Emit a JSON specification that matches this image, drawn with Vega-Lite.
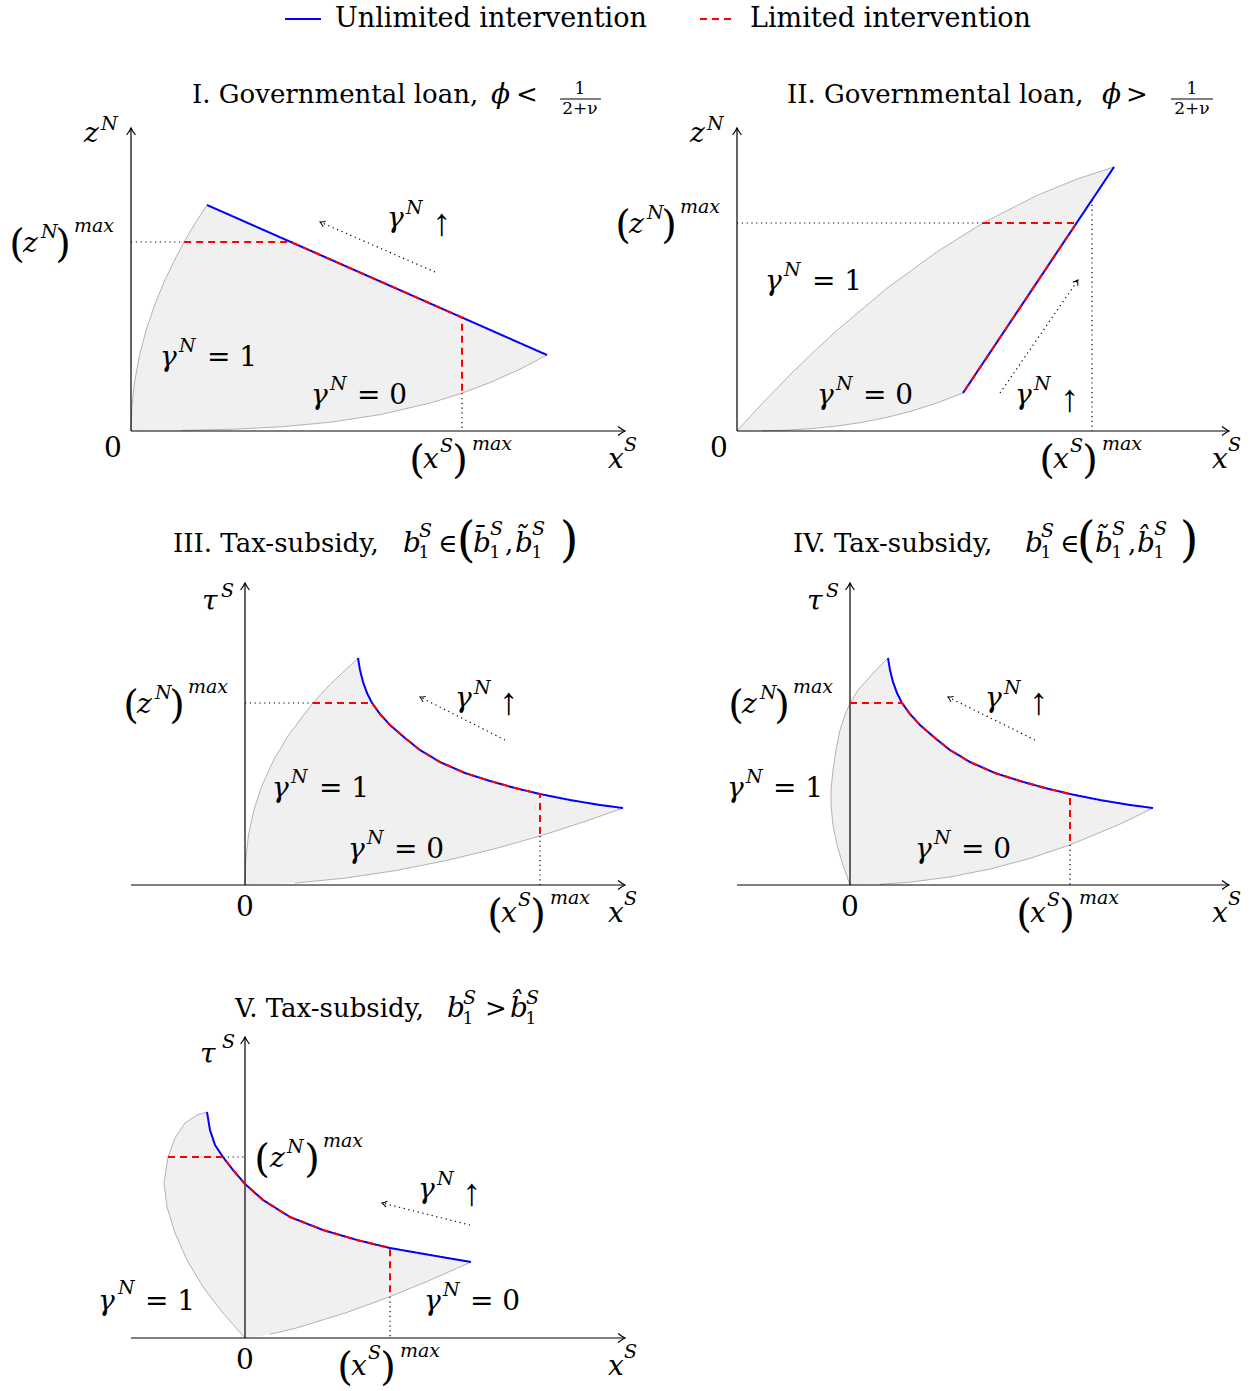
{
  "$schema": "https://vega.github.io/schema/vega-lite/v6.json",
  "padding": 0,
  "background": "white",
  "config": {
    "view": {"stroke": null},
    "text": {"font": "DejaVu Serif", "color": "#000"},
    "legend": {"symbolType": "stroke", "symbolSize": 1296, "symbolStrokeWidth": 2, "labelFont": "DejaVu Serif", "labelFontSize": 27, "labelColor": "#000", "labelOffset": 13, "columnPadding": 49, "padding": 0, "labelLimit": 0}
  },
  "datasets": {
    "region": [
      {"p":"I","i":0,"x":0,"y":0},{"p":"I","i":1,"x":0.0093,"y":0.25},{"p":"I","i":2,"x":0.0372,"y":0.5},{"p":"I","i":3,"x":0.0837,"y":0.75},{"p":"I","i":4,"x":0.1488,"y":1.0},{"p":"I","i":5,"x":0.2325,"y":1.25},{"p":"I","i":6,"x":0.3348,"y":1.5},{"p":"I","i":7,"x":0.4557,"y":1.75},{"p":"I","i":8,"x":0.5315,"y":1.89},{"p":"I","i":9,"x":0.5952,"y":2.0},{"p":"I","i":10,"x":0.6752,"y":2.13},{"p":"I","i":11,"x":0.76,"y":2.26},{"p":"I","i":12,"x":4.16,"y":0.76},{"p":"I","i":13,"x":3.9,"y":0.6231},{"p":"I","i":14,"x":3.6,"y":0.4879},{"p":"I","i":15,"x":3.31,"y":0.3783},{"p":"I","i":16,"x":3.0,"y":0.2818},{"p":"I","i":17,"x":2.5,"y":0.1652},{"p":"I","i":18,"x":2.0,"y":0.0883},{"p":"I","i":19,"x":1.5,"y":0.0419},{"p":"I","i":20,"x":1.0,"y":0.0171},{"p":"I","i":21,"x":0.5,"y":0.0056},
      {"p":"II","i":0,"x":0,"y":0},{"p":"II","i":1,"x":0.25,"y":0.2726},{"p":"II","i":2,"x":0.5,"y":0.5313},{"p":"II","i":3,"x":0.75,"y":0.776},{"p":"II","i":4,"x":1.0,"y":1.0071},{"p":"II","i":5,"x":1.5,"y":1.4275},{"p":"II","i":6,"x":2.0,"y":1.7924},{"p":"II","i":7,"x":2.46,"y":2.08},{"p":"II","i":8,"x":3.0,"y":2.3559},{"p":"II","i":9,"x":3.4,"y":2.5192},{"p":"II","i":10,"x":3.77,"y":2.64},{"p":"II","i":11,"x":2.26,"y":0.38},{"p":"II","i":12,"x":2.0,"y":0.28},{"p":"II","i":13,"x":1.75,"y":0.2005},{"p":"II","i":14,"x":1.5,"y":0.1364},{"p":"II","i":15,"x":1.25,"y":0.0865},{"p":"II","i":16,"x":1.0,"y":0.0495},{"p":"II","i":17,"x":0.75,"y":0.0241},{"p":"II","i":18,"x":0.5,"y":0.0087},{"p":"II","i":19,"x":0.25,"y":0.0015},
      {"p":"III","i":0,"x":0,"y":0},{"p":"III","i":1,"x":0.0071,"y":0.25},{"p":"III","i":2,"x":0.0348,"y":0.5},{"p":"III","i":3,"x":0.0885,"y":0.75},{"p":"III","i":4,"x":0.1715,"y":1.0},{"p":"III","i":5,"x":0.2865,"y":1.25},{"p":"III","i":6,"x":0.4358,"y":1.5},{"p":"III","i":7,"x":0.68,"y":1.82},{"p":"III","i":8,"x":0.8447,"y":2.0},{"p":"III","i":9,"x":1.13,"y":2.27},{"p":"III","i":10,"x":1.15,"y":2.15},{"p":"III","i":11,"x":1.18,"y":2.03},{"p":"III","i":12,"x":1.22,"y":1.92},{"p":"III","i":13,"x":1.27,"y":1.82},{"p":"III","i":14,"x":1.35,"y":1.71},{"p":"III","i":15,"x":1.45,"y":1.6},{"p":"III","i":16,"x":1.6,"y":1.47},{"p":"III","i":17,"x":1.75,"y":1.35},{"p":"III","i":18,"x":1.95,"y":1.23},{"p":"III","i":19,"x":2.2,"y":1.12},{"p":"III","i":20,"x":2.45,"y":1.04},{"p":"III","i":21,"x":2.7,"y":0.97},{"p":"III","i":22,"x":2.95,"y":0.91},{"p":"III","i":23,"x":3.25,"y":0.85},{"p":"III","i":24,"x":3.55,"y":0.8},{"p":"III","i":25,"x":3.78,"y":0.77},{"p":"III","i":26,"x":3.4,"y":0.635},{"p":"III","i":27,"x":2.95,"y":0.49},{"p":"III","i":28,"x":2.5,"y":0.3628},{"p":"III","i":29,"x":2.0,"y":0.2417},{"p":"III","i":30,"x":1.5,"y":0.1432},{"p":"III","i":31,"x":1.0,"y":0.0685},{"p":"III","i":32,"x":0.5,"y":0.0194},
      {"p":"IV","i":0,"x":0,"y":0},{"p":"IV","i":1,"x":-0.07,"y":0.2},{"p":"IV","i":2,"x":-0.13,"y":0.4},{"p":"IV","i":3,"x":-0.17,"y":0.6},{"p":"IV","i":4,"x":-0.19,"y":0.8},{"p":"IV","i":5,"x":-0.19,"y":0.95},{"p":"IV","i":6,"x":-0.17,"y":1.15},{"p":"IV","i":7,"x":-0.14,"y":1.35},{"p":"IV","i":8,"x":-0.1,"y":1.55},{"p":"IV","i":9,"x":-0.05,"y":1.7},{"p":"IV","i":10,"x":0,"y":1.82},{"p":"IV","i":11,"x":0.08,"y":1.95},{"p":"IV","i":12,"x":0.17,"y":2.05},{"p":"IV","i":13,"x":0.27,"y":2.16},{"p":"IV","i":14,"x":0.38,"y":2.27},{"p":"IV","i":15,"x":0.4,"y":2.15},{"p":"IV","i":16,"x":0.43,"y":2.03},{"p":"IV","i":17,"x":0.47,"y":1.92},{"p":"IV","i":18,"x":0.52,"y":1.82},{"p":"IV","i":19,"x":0.6,"y":1.71},{"p":"IV","i":20,"x":0.7,"y":1.6},{"p":"IV","i":21,"x":0.85,"y":1.47},{"p":"IV","i":22,"x":1.0,"y":1.35},{"p":"IV","i":23,"x":1.2,"y":1.23},{"p":"IV","i":24,"x":1.45,"y":1.12},{"p":"IV","i":25,"x":1.7,"y":1.04},{"p":"IV","i":26,"x":1.95,"y":0.97},{"p":"IV","i":27,"x":2.2,"y":0.91},{"p":"IV","i":28,"x":2.5,"y":0.85},{"p":"IV","i":29,"x":2.8,"y":0.8},{"p":"IV","i":30,"x":3.03,"y":0.77},{"p":"IV","i":31,"x":2.7,"y":0.6086},{"p":"IV","i":32,"x":2.2,"y":0.4008},{"p":"IV","i":33,"x":1.8,"y":0.2661},{"p":"IV","i":34,"x":1.4,"y":0.1594},{"p":"IV","i":35,"x":1.0,"y":0.0802},{"p":"IV","i":36,"x":0.6,"y":0.0283},{"p":"IV","i":37,"x":0.3,"y":0.0069},
      {"p":"V","i":0,"x":0,"y":0},{"p":"V","i":1,"x":-0.22,"y":0.25},{"p":"V","i":2,"x":-0.42,"y":0.51},{"p":"V","i":3,"x":-0.58,"y":0.78},{"p":"V","i":4,"x":-0.7,"y":1.05},{"p":"V","i":5,"x":-0.78,"y":1.31},{"p":"V","i":6,"x":-0.81,"y":1.55},{"p":"V","i":7,"x":-0.77,"y":1.81},{"p":"V","i":8,"x":-0.7,"y":2.0},{"p":"V","i":9,"x":-0.6,"y":2.15},{"p":"V","i":10,"x":-0.48,"y":2.23},{"p":"V","i":11,"x":-0.38,"y":2.26},{"p":"V","i":12,"x":-0.35,"y":2.08},{"p":"V","i":13,"x":-0.3,"y":1.93},{"p":"V","i":14,"x":-0.22,"y":1.81},{"p":"V","i":15,"x":-0.12,"y":1.68},{"p":"V","i":16,"x":0,"y":1.54},{"p":"V","i":17,"x":0.18,"y":1.38},{"p":"V","i":18,"x":0.45,"y":1.21},{"p":"V","i":19,"x":0.78,"y":1.08},{"p":"V","i":20,"x":1.12,"y":0.98},{"p":"V","i":21,"x":1.45,"y":0.9},{"p":"V","i":22,"x":1.85,"y":0.83},{"p":"V","i":23,"x":2.26,"y":0.76},{"p":"V","i":24,"x":1.85,"y":0.5778},{"p":"V","i":25,"x":1.45,"y":0.4137},{"p":"V","i":26,"x":1.0,"y":0.2488},{"p":"V","i":27,"x":0.5,"y":0.0962},{"p":"V","i":28,"x":0.25,"y":0.0372}
    ],
    "curve": [
      {"p":"I","s":"Unlimited intervention","i":0,"x":0.76,"y":2.26},{"p":"I","s":"Unlimited intervention","i":1,"x":4.16,"y":0.76},
      {"p":"I","s":"Limited intervention","i":0,"x":0.5315,"y":1.89},{"p":"I","s":"Limited intervention","i":1,"x":1.5986,"y":1.89},{"p":"I","s":"Limited intervention","i":2,"x":3.31,"y":1.135},{"p":"I","s":"Limited intervention","i":3,"x":3.31,"y":0.3783},
      {"p":"II","s":"Unlimited intervention","i":0,"x":2.26,"y":0.38},{"p":"II","s":"Unlimited intervention","i":1,"x":3.77,"y":2.64},
      {"p":"II","s":"Limited intervention","i":0,"x":2.46,"y":2.08},{"p":"II","s":"Limited intervention","i":1,"x":3.396,"y":2.08},{"p":"II","s":"Limited intervention","i":2,"x":2.26,"y":0.38},
      {"p":"III","s":"Unlimited intervention","i":0,"x":1.13,"y":2.27},{"p":"III","s":"Unlimited intervention","i":1,"x":1.15,"y":2.15},{"p":"III","s":"Unlimited intervention","i":2,"x":1.18,"y":2.03},{"p":"III","s":"Unlimited intervention","i":3,"x":1.22,"y":1.92},{"p":"III","s":"Unlimited intervention","i":4,"x":1.27,"y":1.82},{"p":"III","s":"Unlimited intervention","i":5,"x":1.35,"y":1.71},{"p":"III","s":"Unlimited intervention","i":6,"x":1.45,"y":1.6},{"p":"III","s":"Unlimited intervention","i":7,"x":1.6,"y":1.47},{"p":"III","s":"Unlimited intervention","i":8,"x":1.75,"y":1.35},{"p":"III","s":"Unlimited intervention","i":9,"x":1.95,"y":1.23},{"p":"III","s":"Unlimited intervention","i":10,"x":2.2,"y":1.12},{"p":"III","s":"Unlimited intervention","i":11,"x":2.45,"y":1.04},{"p":"III","s":"Unlimited intervention","i":12,"x":2.7,"y":0.97},{"p":"III","s":"Unlimited intervention","i":13,"x":2.95,"y":0.91},{"p":"III","s":"Unlimited intervention","i":14,"x":3.25,"y":0.85},{"p":"III","s":"Unlimited intervention","i":15,"x":3.55,"y":0.8},{"p":"III","s":"Unlimited intervention","i":16,"x":3.78,"y":0.77},
      {"p":"III","s":"Limited intervention","i":0,"x":0.68,"y":1.82},{"p":"III","s":"Limited intervention","i":1,"x":1.27,"y":1.82},{"p":"III","s":"Limited intervention","i":2,"x":1.35,"y":1.71},{"p":"III","s":"Limited intervention","i":3,"x":1.45,"y":1.6},{"p":"III","s":"Limited intervention","i":4,"x":1.6,"y":1.47},{"p":"III","s":"Limited intervention","i":5,"x":1.75,"y":1.35},{"p":"III","s":"Limited intervention","i":6,"x":1.95,"y":1.23},{"p":"III","s":"Limited intervention","i":7,"x":2.2,"y":1.12},{"p":"III","s":"Limited intervention","i":8,"x":2.45,"y":1.04},{"p":"III","s":"Limited intervention","i":9,"x":2.7,"y":0.97},{"p":"III","s":"Limited intervention","i":10,"x":2.95,"y":0.91},{"p":"III","s":"Limited intervention","i":11,"x":2.95,"y":0.49},
      {"p":"IV","s":"Unlimited intervention","i":0,"x":0.38,"y":2.27},{"p":"IV","s":"Unlimited intervention","i":1,"x":0.4,"y":2.15},{"p":"IV","s":"Unlimited intervention","i":2,"x":0.43,"y":2.03},{"p":"IV","s":"Unlimited intervention","i":3,"x":0.47,"y":1.92},{"p":"IV","s":"Unlimited intervention","i":4,"x":0.52,"y":1.82},{"p":"IV","s":"Unlimited intervention","i":5,"x":0.6,"y":1.71},{"p":"IV","s":"Unlimited intervention","i":6,"x":0.7,"y":1.6},{"p":"IV","s":"Unlimited intervention","i":7,"x":0.85,"y":1.47},{"p":"IV","s":"Unlimited intervention","i":8,"x":1.0,"y":1.35},{"p":"IV","s":"Unlimited intervention","i":9,"x":1.2,"y":1.23},{"p":"IV","s":"Unlimited intervention","i":10,"x":1.45,"y":1.12},{"p":"IV","s":"Unlimited intervention","i":11,"x":1.7,"y":1.04},{"p":"IV","s":"Unlimited intervention","i":12,"x":1.95,"y":0.97},{"p":"IV","s":"Unlimited intervention","i":13,"x":2.2,"y":0.91},{"p":"IV","s":"Unlimited intervention","i":14,"x":2.5,"y":0.85},{"p":"IV","s":"Unlimited intervention","i":15,"x":2.8,"y":0.8},{"p":"IV","s":"Unlimited intervention","i":16,"x":3.03,"y":0.77},
      {"p":"IV","s":"Limited intervention","i":0,"x":0,"y":1.82},{"p":"IV","s":"Limited intervention","i":1,"x":0.52,"y":1.82},{"p":"IV","s":"Limited intervention","i":2,"x":0.6,"y":1.71},{"p":"IV","s":"Limited intervention","i":3,"x":0.7,"y":1.6},{"p":"IV","s":"Limited intervention","i":4,"x":0.85,"y":1.47},{"p":"IV","s":"Limited intervention","i":5,"x":1.0,"y":1.35},{"p":"IV","s":"Limited intervention","i":6,"x":1.2,"y":1.23},{"p":"IV","s":"Limited intervention","i":7,"x":1.45,"y":1.12},{"p":"IV","s":"Limited intervention","i":8,"x":1.7,"y":1.04},{"p":"IV","s":"Limited intervention","i":9,"x":1.95,"y":0.97},{"p":"IV","s":"Limited intervention","i":10,"x":2.2,"y":0.91},{"p":"IV","s":"Limited intervention","i":11,"x":2.2,"y":0.4008},
      {"p":"V","s":"Unlimited intervention","i":0,"x":-0.38,"y":2.26},{"p":"V","s":"Unlimited intervention","i":1,"x":-0.35,"y":2.08},{"p":"V","s":"Unlimited intervention","i":2,"x":-0.3,"y":1.93},{"p":"V","s":"Unlimited intervention","i":3,"x":-0.22,"y":1.81},{"p":"V","s":"Unlimited intervention","i":4,"x":-0.12,"y":1.68},{"p":"V","s":"Unlimited intervention","i":5,"x":0,"y":1.54},{"p":"V","s":"Unlimited intervention","i":6,"x":0.18,"y":1.38},{"p":"V","s":"Unlimited intervention","i":7,"x":0.45,"y":1.21},{"p":"V","s":"Unlimited intervention","i":8,"x":0.78,"y":1.08},{"p":"V","s":"Unlimited intervention","i":9,"x":1.12,"y":0.98},{"p":"V","s":"Unlimited intervention","i":10,"x":1.45,"y":0.9},{"p":"V","s":"Unlimited intervention","i":11,"x":1.85,"y":0.83},{"p":"V","s":"Unlimited intervention","i":12,"x":2.26,"y":0.76},
      {"p":"V","s":"Limited intervention","i":0,"x":-0.77,"y":1.81},{"p":"V","s":"Limited intervention","i":1,"x":-0.22,"y":1.81},{"p":"V","s":"Limited intervention","i":2,"x":-0.12,"y":1.68},{"p":"V","s":"Limited intervention","i":3,"x":0,"y":1.54},{"p":"V","s":"Limited intervention","i":4,"x":0.18,"y":1.38},{"p":"V","s":"Limited intervention","i":5,"x":0.45,"y":1.21},{"p":"V","s":"Limited intervention","i":6,"x":0.78,"y":1.08},{"p":"V","s":"Limited intervention","i":7,"x":1.12,"y":0.98},{"p":"V","s":"Limited intervention","i":8,"x":1.45,"y":0.9},{"p":"V","s":"Limited intervention","i":9,"x":1.45,"y":0.4137}
    ],
    "dots": [
      {"p":"I","g":"a","i":0,"x":0,"y":1.89},{"p":"I","g":"a","i":1,"x":0.5315,"y":1.89},{"p":"I","g":"b","i":0,"x":3.31,"y":0.3783},{"p":"I","g":"b","i":1,"x":3.31,"y":0},{"p":"I","g":"c","i":0,"x":3.04,"y":1.59},{"p":"I","g":"c","i":1,"x":1.89,"y":2.09},
      {"p":"II","g":"a","i":0,"x":0,"y":2.08},{"p":"II","g":"a","i":1,"x":2.46,"y":2.08},{"p":"II","g":"b","i":0,"x":3.55,"y":2.31},{"p":"II","g":"b","i":1,"x":3.55,"y":0},{"p":"II","g":"c","i":0,"x":2.63,"y":0.38},{"p":"II","g":"c","i":1,"x":3.41,"y":1.51},
      {"p":"III","g":"a","i":0,"x":0,"y":1.82},{"p":"III","g":"a","i":1,"x":0.68,"y":1.82},{"p":"III","g":"b","i":0,"x":2.95,"y":0.49},{"p":"III","g":"b","i":1,"x":2.95,"y":0},{"p":"III","g":"c","i":0,"x":2.6,"y":1.45},{"p":"III","g":"c","i":1,"x":1.75,"y":1.88},
      {"p":"IV","g":"b","i":0,"x":2.2,"y":0.4008},{"p":"IV","g":"b","i":1,"x":2.2,"y":0},{"p":"IV","g":"c","i":0,"x":1.85,"y":1.45},{"p":"IV","g":"c","i":1,"x":0.98,"y":1.88},
      {"p":"V","g":"a","i":0,"x":-0.22,"y":1.81},{"p":"V","g":"a","i":1,"x":0,"y":1.81},{"p":"V","g":"b","i":0,"x":1.45,"y":0.4137},{"p":"V","g":"b","i":1,"x":1.45,"y":0},{"p":"V","g":"c","i":0,"x":2.25,"y":1.13},{"p":"V","g":"c","i":1,"x":1.37,"y":1.35}
    ],
    "axes": [
      {"p":"I","g":"x","i":0,"x":0,"y":0},{"p":"I","g":"x","i":1,"x":4.94,"y":0},{"p":"I","g":"y","i":0,"x":0,"y":0},{"p":"I","g":"y","i":1,"x":0,"y":3.03},
      {"p":"II","g":"x","i":0,"x":0,"y":0},{"p":"II","g":"x","i":1,"x":4.92,"y":0},{"p":"II","g":"y","i":0,"x":0,"y":0},{"p":"II","g":"y","i":1,"x":0,"y":3.03},
      {"p":"III","g":"x","i":0,"x":-1.14,"y":0},{"p":"III","g":"x","i":1,"x":3.8,"y":0},{"p":"III","g":"y","i":0,"x":0,"y":0},{"p":"III","g":"y","i":1,"x":0,"y":3.02},
      {"p":"IV","g":"x","i":0,"x":-1.13,"y":0},{"p":"IV","g":"x","i":1,"x":3.79,"y":0},{"p":"IV","g":"y","i":0,"x":0,"y":0},{"p":"IV","g":"y","i":1,"x":0,"y":3.02},
      {"p":"V","g":"x","i":0,"x":-1.14,"y":0},{"p":"V","g":"x","i":1,"x":3.8,"y":0},{"p":"V","g":"y","i":0,"x":0,"y":0},{"p":"V","g":"y","i":1,"x":0,"y":3.01}
    ],
    "heads": [
      {"p":"I","x":4.94,"y":0,"a":0},{"p":"I","x":0,"y":3.03,"a":-90},
      {"p":"II","x":4.92,"y":0,"a":0},{"p":"II","x":0,"y":3.03,"a":-90},
      {"p":"III","x":3.8,"y":0,"a":0},{"p":"III","x":0,"y":3.02,"a":-90},
      {"p":"IV","x":3.79,"y":0,"a":0},{"p":"IV","x":0,"y":3.02,"a":-90},
      {"p":"V","x":3.8,"y":0,"a":0},{"p":"V","x":0,"y":3.01,"a":-90}
    ],
    "tips": [
      {"p":"I","x":1.89,"y":2.09,"a":203.5},
      {"p":"II","x":3.41,"y":1.51,"a":-55.4},
      {"p":"III","x":1.75,"y":1.88,"a":206.8},
      {"p":"IV","x":0.98,"y":1.88,"a":206.8},
      {"p":"V","x":1.37,"y":1.35,"a":194}
    ],
    "bars": [
      {"p":"I","x":4.29,"x2":4.7,"y":3.32},
      {"p":"II","x":4.34,"x2":4.76,"y":3.32}
    ],
    "ttl": [
      {"p":"I","t":"I. Governmental loan,","x":0.61,"y":3.28},{"p":"I","t":"<","x":3.85,"y":3.28},
      {"p":"II","t":"II. Governmental loan,","x":0.5,"y":3.28},{"p":"II","t":">","x":3.89,"y":3.28},
      {"p":"III","t":"III. Tax-subsidy,","x":-0.72,"y":3.33},{"p":"III","t":"∈","x":1.93,"y":3.33},{"p":"III","t":",","x":2.6,"y":3.33},
      {"p":"IV","t":"IV. Tax-subsidy,","x":-0.57,"y":3.33},{"p":"IV","t":"∈","x":2.1,"y":3.33},{"p":"IV","t":",","x":2.78,"y":3.33},
      {"p":"V","t":"V. Tax-subsidy,","x":-0.1,"y":3.21},{"p":"V","t":">","x":2.4,"y":3.21}
    ],
    "mi": [
      {"p":"I","t":"ϕ","x":3.6,"y":3.28},{"p":"I","t":"z","x":-0.47,"y":2.89},{"p":"I","t":"x","x":4.77,"y":-0.37},{"p":"I","t":"z","x":-1.08,"y":1.79},{"p":"I","t":"x","x":2.92,"y":-0.37},{"p":"I","t":"γ","x":2.56,"y":2.04},{"p":"I","t":"γ","x":0.29,"y":0.65},{"p":"I","t":"γ","x":1.8,"y":0.27},
      {"p":"II","t":"ϕ","x":3.65,"y":3.28},{"p":"II","t":"z","x":-0.47,"y":2.89},{"p":"II","t":"x","x":4.75,"y":-0.37},{"p":"II","t":"z","x":-1.08,"y":1.98},{"p":"II","t":"x","x":3.16,"y":-0.37},{"p":"II","t":"γ","x":2.78,"y":0.27},{"p":"II","t":"γ","x":0.28,"y":1.41},{"p":"II","t":"γ","x":0.8,"y":0.27},
      {"p":"III","t":"b","x":1.58,"y":3.33},{"p":"III","t":"b̄","x":2.28,"y":3.33},{"p":"III","t":"b̃","x":2.7,"y":3.33},{"p":"III","t":"τ","x":-0.43,"y":2.75},{"p":"III","t":"z","x":-1.08,"y":1.72},{"p":"III","t":"x","x":2.56,"y":-0.37},{"p":"III","t":"x","x":3.63,"y":-0.37},{"p":"III","t":"γ","x":2.1,"y":1.78},{"p":"III","t":"γ","x":0.27,"y":0.88},{"p":"III","t":"γ","x":1.03,"y":0.27},
      {"p":"IV","t":"b","x":1.75,"y":3.33},{"p":"IV","t":"b̃","x":2.45,"y":3.33},{"p":"IV","t":"b̂","x":2.87,"y":3.33},{"p":"IV","t":"τ","x":-0.43,"y":2.75},{"p":"IV","t":"z","x":-1.08,"y":1.72},{"p":"IV","t":"x","x":1.8,"y":-0.37},{"p":"IV","t":"x","x":3.62,"y":-0.37},{"p":"IV","t":"γ","x":1.35,"y":1.78},{"p":"IV","t":"γ","x":-1.23,"y":0.88},{"p":"IV","t":"γ","x":0.65,"y":0.27},
      {"p":"V","t":"b","x":2.02,"y":3.21},{"p":"V","t":"b̂","x":2.65,"y":3.21},{"p":"V","t":"τ","x":-0.45,"y":2.75},{"p":"V","t":"z","x":0.25,"y":1.71},{"p":"V","t":"x","x":1.06,"y":-0.37},{"p":"V","t":"x","x":3.63,"y":-0.37},{"p":"V","t":"γ","x":1.73,"y":1.4},{"p":"V","t":"γ","x":-1.47,"y":0.28},{"p":"V","t":"γ","x":1.79,"y":0.28}
    ],
    "sup": [
      {"p":"I","t":"N","x":-0.3,"y":3.01},{"p":"I","t":"S","x":4.93,"y":-0.2},{"p":"I","t":"N","x":-0.9,"y":1.93},{"p":"I","t":"max","x":-0.57,"y":1.99},{"p":"I","t":"S","x":3.09,"y":-0.21},{"p":"I","t":"max","x":3.41,"y":-0.19},{"p":"I","t":"N","x":2.75,"y":2.17},{"p":"I","t":"N","x":0.48,"y":0.79},{"p":"I","t":"N","x":1.99,"y":0.41},
      {"p":"II","t":"N","x":-0.3,"y":3.01},{"p":"II","t":"S","x":4.91,"y":-0.2},{"p":"II","t":"N","x":-0.9,"y":2.12},{"p":"II","t":"max","x":-0.57,"y":2.18},{"p":"II","t":"S","x":3.33,"y":-0.21},{"p":"II","t":"max","x":3.65,"y":-0.19},{"p":"II","t":"N","x":2.97,"y":0.41},{"p":"II","t":"N","x":0.47,"y":1.55},{"p":"II","t":"N","x":0.99,"y":0.41},
      {"p":"III","t":"S","x":1.74,"y":3.48},{"p":"III","t":"S","x":2.45,"y":3.5},{"p":"III","t":"S","x":2.87,"y":3.5},{"p":"III","t":"S","x":-0.24,"y":2.88},{"p":"III","t":"N","x":-0.9,"y":1.86},{"p":"III","t":"max","x":-0.57,"y":1.92},{"p":"III","t":"S","x":2.73,"y":-0.21},{"p":"III","t":"max","x":3.05,"y":-0.19},{"p":"III","t":"S","x":3.79,"y":-0.2},{"p":"III","t":"N","x":2.29,"y":1.91},{"p":"III","t":"N","x":0.46,"y":1.02},{"p":"III","t":"N","x":1.22,"y":0.41},
      {"p":"IV","t":"S","x":1.91,"y":3.48},{"p":"IV","t":"S","x":2.62,"y":3.5},{"p":"IV","t":"S","x":3.04,"y":3.5},{"p":"IV","t":"S","x":-0.24,"y":2.88},{"p":"IV","t":"N","x":-0.9,"y":1.86},{"p":"IV","t":"max","x":-0.57,"y":1.92},{"p":"IV","t":"S","x":1.97,"y":-0.21},{"p":"IV","t":"max","x":2.29,"y":-0.19},{"p":"IV","t":"S","x":3.78,"y":-0.2},{"p":"IV","t":"N","x":1.54,"y":1.91},{"p":"IV","t":"N","x":-1.04,"y":1.02},{"p":"IV","t":"N","x":0.84,"y":0.41},
      {"p":"V","t":"S","x":2.18,"y":3.34},{"p":"V","t":"S","x":2.81,"y":3.34},{"p":"V","t":"S","x":-0.23,"y":2.9},{"p":"V","t":"N","x":0.42,"y":1.85},{"p":"V","t":"max","x":0.78,"y":1.91},{"p":"V","t":"S","x":1.23,"y":-0.21},{"p":"V","t":"max","x":1.55,"y":-0.19},{"p":"V","t":"S","x":3.79,"y":-0.2},{"p":"V","t":"N","x":1.92,"y":1.53},{"p":"V","t":"N","x":-1.27,"y":0.44},{"p":"V","t":"N","x":1.98,"y":0.42}
    ],
    "rm": [
      {"p":"I","t":"0","x":-0.27,"y":-0.26},{"p":"I","t":"= 1","x":0.76,"y":0.65},{"p":"I","t":"= 0","x":2.26,"y":0.27},
      {"p":"II","t":"0","x":-0.27,"y":-0.26},{"p":"II","t":"= 1","x":0.75,"y":1.41},{"p":"II","t":"= 0","x":1.26,"y":0.27},
      {"p":"III","t":"0","x":-0.09,"y":-0.31},{"p":"III","t":"= 1","x":0.74,"y":0.88},{"p":"III","t":"= 0","x":1.49,"y":0.27},
      {"p":"IV","t":"0","x":-0.09,"y":-0.31},{"p":"IV","t":"= 1","x":-0.77,"y":0.88},{"p":"IV","t":"= 0","x":1.11,"y":0.27},
      {"p":"V","t":"0","x":-0.09,"y":-0.31},{"p":"V","t":"= 1","x":-1.0,"y":0.28},{"p":"V","t":"= 0","x":2.25,"y":0.28}
    ],
    "arr": [
      {"p":"I","t":"↑","x":3.01,"y":1.96},
      {"p":"II","t":"↑","x":3.23,"y":0.2},
      {"p":"III","t":"↑","x":2.54,"y":1.71},
      {"p":"IV","t":"↑","x":1.79,"y":1.71},
      {"p":"V","t":"↑","x":2.17,"y":1.33}
    ],
    "sm": [
      {"p":"I","t":"1","x":4.49,"y":3.37},{"p":"I","t":"2+ν","x":4.49,"y":3.17},
      {"p":"II","t":"1","x":4.55,"y":3.37},{"p":"II","t":"2+ν","x":4.55,"y":3.17},
      {"p":"III","t":"1","x":1.79,"y":3.27},{"p":"III","t":"1","x":2.5,"y":3.27},{"p":"III","t":"1","x":2.92,"y":3.27},
      {"p":"IV","t":"1","x":1.96,"y":3.27},{"p":"IV","t":"1","x":2.67,"y":3.27},{"p":"IV","t":"1","x":3.09,"y":3.27},
      {"p":"V","t":"1","x":2.23,"y":3.14},{"p":"V","t":"1","x":2.86,"y":3.14}
    ],
    "par": [
      {"p":"I","t":"(","x":-1.14,"y":1.86},{"p":"I","t":")","x":-0.68,"y":1.86},{"p":"I","t":"(","x":2.86,"y":-0.3},{"p":"I","t":")","x":3.29,"y":-0.3},
      {"p":"II","t":"(","x":-1.14,"y":2.05},{"p":"II","t":")","x":-0.68,"y":2.05},{"p":"II","t":"(","x":3.1,"y":-0.3},{"p":"II","t":")","x":3.53,"y":-0.3},
      {"p":"III","t":"(","x":-1.14,"y":1.79},{"p":"III","t":")","x":-0.68,"y":1.79},{"p":"III","t":"(","x":2.5,"y":-0.3},{"p":"III","t":")","x":2.93,"y":-0.3},
      {"p":"IV","t":"(","x":-1.14,"y":1.79},{"p":"IV","t":")","x":-0.68,"y":1.79},{"p":"IV","t":"(","x":1.74,"y":-0.3},{"p":"IV","t":")","x":2.17,"y":-0.3},
      {"p":"V","t":"(","x":0.17,"y":1.78},{"p":"V","t":")","x":0.67,"y":1.78},{"p":"V","t":"(","x":1.0,"y":-0.3},{"p":"V","t":")","x":1.43,"y":-0.3}
    ],
    "bpar": [
      {"p":"III","t":"(","x":2.21,"y":3.43},{"p":"III","t":")","x":3.24,"y":3.43},
      {"p":"IV","t":"(","x":2.36,"y":3.43},{"p":"IV","t":")","x":3.39,"y":3.43}
    ]
  },
  "columns": 2,
  "spacing": 0,
  "bounds": "flush",
  "align": "each",
  "concat": [
    {
      "width": 630, "height": 500,
      "encoding": {
        "x": {"field": "x", "type": "quantitative", "scale": {"domain": [-1.31, 4.99], "nice": false, "zero": false}, "axis": null},
        "y": {"field": "y", "type": "quantitative", "scale": {"domain": [-0.69, 4.31], "nice": false, "zero": false}, "axis": null}
      },
      "layer": [
        {"data": {"name": "region"}, "transform": [{"filter": "datum.p=='I'"}], "mark": {"type": "line", "fill": "#f0f0f0", "stroke": "#b3b3b3", "strokeWidth": 1}, "encoding": {"order": {"field": "i", "type": "quantitative"}}},
        {"data": {"name": "dots"}, "transform": [{"filter": "datum.p=='I'"}], "mark": {"type": "line", "stroke": "#000", "strokeWidth": 1.2, "strokeDash": [1.2, 3.6]}, "encoding": {"detail": {"field": "g", "type": "nominal"}, "order": {"field": "i", "type": "quantitative"}}},
        {"data": {"name": "axes"}, "transform": [{"filter": "datum.p=='I'"}], "mark": {"type": "line", "stroke": "#000", "strokeWidth": 1.2}, "encoding": {"detail": {"field": "g", "type": "nominal"}, "order": {"field": "i", "type": "quantitative"}}},
        {"data": {"name": "curve"}, "transform": [{"filter": "datum.p=='I' && datum.s=='Unlimited intervention'"}], "mark": {"type": "line", "strokeWidth": 2},
         "encoding": {"order": {"field": "i", "type": "quantitative"},
           "color": {"field": "s", "type": "nominal", "scale": {"domain": ["Unlimited intervention", "Limited intervention"], "range": ["#0000ff", "#ff0000"]}, "legend": {"orient": "none", "legendX": 284, "legendY": 0, "direction": "horizontal", "title": null}},
           "strokeDash": {"field": "s", "type": "nominal", "scale": {"domain": ["Unlimited intervention", "Limited intervention"], "range": [[1, 0], [7, 5]]}, "legend": {"orient": "none", "legendX": 284, "legendY": 0, "direction": "horizontal", "title": null}}}},
        {"data": {"name": "curve"}, "transform": [{"filter": "datum.p=='I' && datum.s=='Limited intervention'"}], "mark": {"type": "line", "strokeWidth": 2},
         "encoding": {"order": {"field": "i", "type": "quantitative"},
           "color": {"field": "s", "type": "nominal", "scale": {"domain": ["Unlimited intervention", "Limited intervention"], "range": ["#0000ff", "#ff0000"]}, "legend": {"orient": "none", "legendX": 284, "legendY": 0, "direction": "horizontal", "title": null}},
           "strokeDash": {"field": "s", "type": "nominal", "scale": {"domain": ["Unlimited intervention", "Limited intervention"], "range": [[1, 0], [7, 5]]}, "legend": {"orient": "none", "legendX": 284, "legendY": 0, "direction": "horizontal", "title": null}}}},
        {"data": {"name": "heads"}, "transform": [{"filter": "datum.p=='I'"}], "mark": {"type": "point", "shape": "M-1.75,-1.1Q-0.7,-0.3,0,0Q-0.7,0.3,-1.75,1.1", "size": 64, "filled": false, "color": "#000", "strokeWidth": 1.2, "opacity": 1}, "encoding": {"angle": {"field": "a", "type": "quantitative", "scale": null}}},
        {"data": {"name": "tips"}, "transform": [{"filter": "datum.p=='I'"}], "mark": {"type": "point", "shape": "M-1.75,-1.1Q-0.7,-0.3,0,0Q-0.7,0.3,-1.75,1.1", "size": 30, "filled": false, "color": "#000", "strokeWidth": 1, "opacity": 1}, "encoding": {"angle": {"field": "a", "type": "quantitative", "scale": null}}},
        {"data": {"name": "bars"}, "transform": [{"filter": "datum.p=='I'"}], "mark": {"type": "rule", "color": "#000", "strokeWidth": 1}, "encoding": {"x2": {"field": "x2"}}},
        {"data": {"name": "ttl"}, "transform": [{"filter": "datum.p=='I'"}], "mark": {"type": "text", "fontSize": 26, "align": "left", "baseline": "alphabetic"}, "encoding": {"text": {"field": "t", "type": "nominal"}}},
        {"data": {"name": "mi"}, "transform": [{"filter": "datum.p=='I'"}], "mark": {"type": "text", "fontSize": 28, "fontStyle": "italic", "align": "left", "baseline": "alphabetic"}, "encoding": {"text": {"field": "t", "type": "nominal"}}},
        {"data": {"name": "sup"}, "transform": [{"filter": "datum.p=='I'"}], "mark": {"type": "text", "fontSize": 19, "fontStyle": "italic", "align": "left", "baseline": "alphabetic"}, "encoding": {"text": {"field": "t", "type": "nominal"}}},
        {"data": {"name": "rm"}, "transform": [{"filter": "datum.p=='I'"}], "mark": {"type": "text", "fontSize": 28, "align": "left", "baseline": "alphabetic"}, "encoding": {"text": {"field": "t", "type": "nominal"}}},
        {"data": {"name": "arr"}, "transform": [{"filter": "datum.p=='I'"}], "mark": {"type": "text", "font": "Liberation Serif", "fontSize": 38, "align": "left", "baseline": "alphabetic"}, "encoding": {"text": {"field": "t", "type": "nominal"}}},
        {"data": {"name": "sm"}, "transform": [{"filter": "datum.p=='I'"}], "mark": {"type": "text", "fontSize": 17, "align": "center", "baseline": "alphabetic"}, "encoding": {"text": {"field": "t", "type": "nominal"}}},
        {"data": {"name": "par"}, "transform": [{"filter": "datum.p=='I'"}], "mark": {"type": "text", "fontSize": 40, "align": "center", "baseline": "middle"}, "encoding": {"text": {"field": "t", "type": "nominal"}}}
      ]
    },
    {
      "width": 630, "height": 500,
      "encoding": {
        "x": {"field": "x", "type": "quantitative", "scale": {"domain": [-1.07, 5.23], "nice": false, "zero": false}, "axis": null},
        "y": {"field": "y", "type": "quantitative", "scale": {"domain": [-0.69, 4.31], "nice": false, "zero": false}, "axis": null}
      },
      "layer": [
        {"data": {"name": "region"}, "transform": [{"filter": "datum.p=='II'"}], "mark": {"type": "line", "fill": "#f0f0f0", "stroke": "#b3b3b3", "strokeWidth": 1}, "encoding": {"order": {"field": "i", "type": "quantitative"}}},
        {"data": {"name": "dots"}, "transform": [{"filter": "datum.p=='II'"}], "mark": {"type": "line", "stroke": "#000", "strokeWidth": 1.2, "strokeDash": [1.2, 3.6]}, "encoding": {"detail": {"field": "g", "type": "nominal"}, "order": {"field": "i", "type": "quantitative"}}},
        {"data": {"name": "axes"}, "transform": [{"filter": "datum.p=='II'"}], "mark": {"type": "line", "stroke": "#000", "strokeWidth": 1.2}, "encoding": {"detail": {"field": "g", "type": "nominal"}, "order": {"field": "i", "type": "quantitative"}}},
        {"data": {"name": "curve"}, "transform": [{"filter": "datum.p=='II' && datum.s=='Unlimited intervention'"}], "mark": {"type": "line", "strokeWidth": 2},
         "encoding": {"order": {"field": "i", "type": "quantitative"},
           "color": {"field": "s", "type": "nominal", "scale": {"domain": ["Unlimited intervention", "Limited intervention"], "range": ["#0000ff", "#ff0000"]}, "legend": {"orient": "none", "legendX": 284, "legendY": 0, "direction": "horizontal", "title": null}},
           "strokeDash": {"field": "s", "type": "nominal", "scale": {"domain": ["Unlimited intervention", "Limited intervention"], "range": [[1, 0], [7, 5]]}, "legend": {"orient": "none", "legendX": 284, "legendY": 0, "direction": "horizontal", "title": null}}}},
        {"data": {"name": "curve"}, "transform": [{"filter": "datum.p=='II' && datum.s=='Limited intervention'"}], "mark": {"type": "line", "strokeWidth": 2},
         "encoding": {"order": {"field": "i", "type": "quantitative"},
           "color": {"field": "s", "type": "nominal", "scale": {"domain": ["Unlimited intervention", "Limited intervention"], "range": ["#0000ff", "#ff0000"]}, "legend": {"orient": "none", "legendX": 284, "legendY": 0, "direction": "horizontal", "title": null}},
           "strokeDash": {"field": "s", "type": "nominal", "scale": {"domain": ["Unlimited intervention", "Limited intervention"], "range": [[1, 0], [7, 5]]}, "legend": {"orient": "none", "legendX": 284, "legendY": 0, "direction": "horizontal", "title": null}}}},
        {"data": {"name": "heads"}, "transform": [{"filter": "datum.p=='II'"}], "mark": {"type": "point", "shape": "M-1.75,-1.1Q-0.7,-0.3,0,0Q-0.7,0.3,-1.75,1.1", "size": 64, "filled": false, "color": "#000", "strokeWidth": 1.2, "opacity": 1}, "encoding": {"angle": {"field": "a", "type": "quantitative", "scale": null}}},
        {"data": {"name": "tips"}, "transform": [{"filter": "datum.p=='II'"}], "mark": {"type": "point", "shape": "M-1.75,-1.1Q-0.7,-0.3,0,0Q-0.7,0.3,-1.75,1.1", "size": 30, "filled": false, "color": "#000", "strokeWidth": 1, "opacity": 1}, "encoding": {"angle": {"field": "a", "type": "quantitative", "scale": null}}},
        {"data": {"name": "bars"}, "transform": [{"filter": "datum.p=='II'"}], "mark": {"type": "rule", "color": "#000", "strokeWidth": 1}, "encoding": {"x2": {"field": "x2"}}},
        {"data": {"name": "ttl"}, "transform": [{"filter": "datum.p=='II'"}], "mark": {"type": "text", "fontSize": 26, "align": "left", "baseline": "alphabetic"}, "encoding": {"text": {"field": "t", "type": "nominal"}}},
        {"data": {"name": "mi"}, "transform": [{"filter": "datum.p=='II'"}], "mark": {"type": "text", "fontSize": 28, "fontStyle": "italic", "align": "left", "baseline": "alphabetic"}, "encoding": {"text": {"field": "t", "type": "nominal"}}},
        {"data": {"name": "sup"}, "transform": [{"filter": "datum.p=='II'"}], "mark": {"type": "text", "fontSize": 19, "fontStyle": "italic", "align": "left", "baseline": "alphabetic"}, "encoding": {"text": {"field": "t", "type": "nominal"}}},
        {"data": {"name": "rm"}, "transform": [{"filter": "datum.p=='II'"}], "mark": {"type": "text", "fontSize": 28, "align": "left", "baseline": "alphabetic"}, "encoding": {"text": {"field": "t", "type": "nominal"}}},
        {"data": {"name": "arr"}, "transform": [{"filter": "datum.p=='II'"}], "mark": {"type": "text", "font": "Liberation Serif", "fontSize": 38, "align": "left", "baseline": "alphabetic"}, "encoding": {"text": {"field": "t", "type": "nominal"}}},
        {"data": {"name": "sm"}, "transform": [{"filter": "datum.p=='II'"}], "mark": {"type": "text", "fontSize": 17, "align": "center", "baseline": "alphabetic"}, "encoding": {"text": {"field": "t", "type": "nominal"}}},
        {"data": {"name": "par"}, "transform": [{"filter": "datum.p=='II'"}], "mark": {"type": "text", "fontSize": 40, "align": "center", "baseline": "middle"}, "encoding": {"text": {"field": "t", "type": "nominal"}}}
      ]
    },
    {
      "width": 630, "height": 455,
      "encoding": {
        "x": {"field": "x", "type": "quantitative", "scale": {"domain": [-2.45, 3.85], "nice": false, "zero": false}, "axis": null},
        "y": {"field": "y", "type": "quantitative", "scale": {"domain": [-0.7, 3.85], "nice": false, "zero": false}, "axis": null}
      },
      "layer": [
        {"data": {"name": "region"}, "transform": [{"filter": "datum.p=='III'"}], "mark": {"type": "line", "fill": "#f0f0f0", "stroke": "#b3b3b3", "strokeWidth": 1}, "encoding": {"order": {"field": "i", "type": "quantitative"}}},
        {"data": {"name": "dots"}, "transform": [{"filter": "datum.p=='III'"}], "mark": {"type": "line", "stroke": "#000", "strokeWidth": 1.2, "strokeDash": [1.2, 3.6]}, "encoding": {"detail": {"field": "g", "type": "nominal"}, "order": {"field": "i", "type": "quantitative"}}},
        {"data": {"name": "axes"}, "transform": [{"filter": "datum.p=='III'"}], "mark": {"type": "line", "stroke": "#000", "strokeWidth": 1.2}, "encoding": {"detail": {"field": "g", "type": "nominal"}, "order": {"field": "i", "type": "quantitative"}}},
        {"data": {"name": "curve"}, "transform": [{"filter": "datum.p=='III' && datum.s=='Unlimited intervention'"}], "mark": {"type": "line", "strokeWidth": 2},
         "encoding": {"order": {"field": "i", "type": "quantitative"},
           "color": {"field": "s", "type": "nominal", "scale": {"domain": ["Unlimited intervention", "Limited intervention"], "range": ["#0000ff", "#ff0000"]}, "legend": {"orient": "none", "legendX": 284, "legendY": 0, "direction": "horizontal", "title": null}},
           "strokeDash": {"field": "s", "type": "nominal", "scale": {"domain": ["Unlimited intervention", "Limited intervention"], "range": [[1, 0], [7, 5]]}, "legend": {"orient": "none", "legendX": 284, "legendY": 0, "direction": "horizontal", "title": null}}}},
        {"data": {"name": "curve"}, "transform": [{"filter": "datum.p=='III' && datum.s=='Limited intervention'"}], "mark": {"type": "line", "strokeWidth": 2},
         "encoding": {"order": {"field": "i", "type": "quantitative"},
           "color": {"field": "s", "type": "nominal", "scale": {"domain": ["Unlimited intervention", "Limited intervention"], "range": ["#0000ff", "#ff0000"]}, "legend": {"orient": "none", "legendX": 284, "legendY": 0, "direction": "horizontal", "title": null}},
           "strokeDash": {"field": "s", "type": "nominal", "scale": {"domain": ["Unlimited intervention", "Limited intervention"], "range": [[1, 0], [7, 5]]}, "legend": {"orient": "none", "legendX": 284, "legendY": 0, "direction": "horizontal", "title": null}}}},
        {"data": {"name": "heads"}, "transform": [{"filter": "datum.p=='III'"}], "mark": {"type": "point", "shape": "M-1.75,-1.1Q-0.7,-0.3,0,0Q-0.7,0.3,-1.75,1.1", "size": 64, "filled": false, "color": "#000", "strokeWidth": 1.2, "opacity": 1}, "encoding": {"angle": {"field": "a", "type": "quantitative", "scale": null}}},
        {"data": {"name": "tips"}, "transform": [{"filter": "datum.p=='III'"}], "mark": {"type": "point", "shape": "M-1.75,-1.1Q-0.7,-0.3,0,0Q-0.7,0.3,-1.75,1.1", "size": 30, "filled": false, "color": "#000", "strokeWidth": 1, "opacity": 1}, "encoding": {"angle": {"field": "a", "type": "quantitative", "scale": null}}},
        {"data": {"name": "ttl"}, "transform": [{"filter": "datum.p=='III'"}], "mark": {"type": "text", "fontSize": 26, "align": "left", "baseline": "alphabetic"}, "encoding": {"text": {"field": "t", "type": "nominal"}}},
        {"data": {"name": "mi"}, "transform": [{"filter": "datum.p=='III'"}], "mark": {"type": "text", "fontSize": 28, "fontStyle": "italic", "align": "left", "baseline": "alphabetic"}, "encoding": {"text": {"field": "t", "type": "nominal"}}},
        {"data": {"name": "sup"}, "transform": [{"filter": "datum.p=='III'"}], "mark": {"type": "text", "fontSize": 19, "fontStyle": "italic", "align": "left", "baseline": "alphabetic"}, "encoding": {"text": {"field": "t", "type": "nominal"}}},
        {"data": {"name": "rm"}, "transform": [{"filter": "datum.p=='III'"}], "mark": {"type": "text", "fontSize": 28, "align": "left", "baseline": "alphabetic"}, "encoding": {"text": {"field": "t", "type": "nominal"}}},
        {"data": {"name": "arr"}, "transform": [{"filter": "datum.p=='III'"}], "mark": {"type": "text", "font": "Liberation Serif", "fontSize": 38, "align": "left", "baseline": "alphabetic"}, "encoding": {"text": {"field": "t", "type": "nominal"}}},
        {"data": {"name": "sm"}, "transform": [{"filter": "datum.p=='III'"}], "mark": {"type": "text", "fontSize": 17, "align": "center", "baseline": "alphabetic"}, "encoding": {"text": {"field": "t", "type": "nominal"}}},
        {"data": {"name": "par"}, "transform": [{"filter": "datum.p=='III'"}], "mark": {"type": "text", "fontSize": 40, "align": "center", "baseline": "middle"}, "encoding": {"text": {"field": "t", "type": "nominal"}}},
        {"data": {"name": "bpar"}, "transform": [{"filter": "datum.p=='III'"}], "mark": {"type": "text", "fontSize": 48, "align": "center", "baseline": "middle"}, "encoding": {"text": {"field": "t", "type": "nominal"}}}
      ]
    },
    {
      "width": 630, "height": 455,
      "encoding": {
        "x": {"field": "x", "type": "quantitative", "scale": {"domain": [-2.2, 4.1], "nice": false, "zero": false}, "axis": null},
        "y": {"field": "y", "type": "quantitative", "scale": {"domain": [-0.7, 3.85], "nice": false, "zero": false}, "axis": null}
      },
      "layer": [
        {"data": {"name": "region"}, "transform": [{"filter": "datum.p=='IV'"}], "mark": {"type": "line", "fill": "#f0f0f0", "stroke": "#b3b3b3", "strokeWidth": 1}, "encoding": {"order": {"field": "i", "type": "quantitative"}}},
        {"data": {"name": "dots"}, "transform": [{"filter": "datum.p=='IV'"}], "mark": {"type": "line", "stroke": "#000", "strokeWidth": 1.2, "strokeDash": [1.2, 3.6]}, "encoding": {"detail": {"field": "g", "type": "nominal"}, "order": {"field": "i", "type": "quantitative"}}},
        {"data": {"name": "axes"}, "transform": [{"filter": "datum.p=='IV'"}], "mark": {"type": "line", "stroke": "#000", "strokeWidth": 1.2}, "encoding": {"detail": {"field": "g", "type": "nominal"}, "order": {"field": "i", "type": "quantitative"}}},
        {"data": {"name": "curve"}, "transform": [{"filter": "datum.p=='IV' && datum.s=='Unlimited intervention'"}], "mark": {"type": "line", "strokeWidth": 2},
         "encoding": {"order": {"field": "i", "type": "quantitative"},
           "color": {"field": "s", "type": "nominal", "scale": {"domain": ["Unlimited intervention", "Limited intervention"], "range": ["#0000ff", "#ff0000"]}, "legend": {"orient": "none", "legendX": 284, "legendY": 0, "direction": "horizontal", "title": null}},
           "strokeDash": {"field": "s", "type": "nominal", "scale": {"domain": ["Unlimited intervention", "Limited intervention"], "range": [[1, 0], [7, 5]]}, "legend": {"orient": "none", "legendX": 284, "legendY": 0, "direction": "horizontal", "title": null}}}},
        {"data": {"name": "curve"}, "transform": [{"filter": "datum.p=='IV' && datum.s=='Limited intervention'"}], "mark": {"type": "line", "strokeWidth": 2},
         "encoding": {"order": {"field": "i", "type": "quantitative"},
           "color": {"field": "s", "type": "nominal", "scale": {"domain": ["Unlimited intervention", "Limited intervention"], "range": ["#0000ff", "#ff0000"]}, "legend": {"orient": "none", "legendX": 284, "legendY": 0, "direction": "horizontal", "title": null}},
           "strokeDash": {"field": "s", "type": "nominal", "scale": {"domain": ["Unlimited intervention", "Limited intervention"], "range": [[1, 0], [7, 5]]}, "legend": {"orient": "none", "legendX": 284, "legendY": 0, "direction": "horizontal", "title": null}}}},
        {"data": {"name": "heads"}, "transform": [{"filter": "datum.p=='IV'"}], "mark": {"type": "point", "shape": "M-1.75,-1.1Q-0.7,-0.3,0,0Q-0.7,0.3,-1.75,1.1", "size": 64, "filled": false, "color": "#000", "strokeWidth": 1.2, "opacity": 1}, "encoding": {"angle": {"field": "a", "type": "quantitative", "scale": null}}},
        {"data": {"name": "tips"}, "transform": [{"filter": "datum.p=='IV'"}], "mark": {"type": "point", "shape": "M-1.75,-1.1Q-0.7,-0.3,0,0Q-0.7,0.3,-1.75,1.1", "size": 30, "filled": false, "color": "#000", "strokeWidth": 1, "opacity": 1}, "encoding": {"angle": {"field": "a", "type": "quantitative", "scale": null}}},
        {"data": {"name": "ttl"}, "transform": [{"filter": "datum.p=='IV'"}], "mark": {"type": "text", "fontSize": 26, "align": "left", "baseline": "alphabetic"}, "encoding": {"text": {"field": "t", "type": "nominal"}}},
        {"data": {"name": "mi"}, "transform": [{"filter": "datum.p=='IV'"}], "mark": {"type": "text", "fontSize": 28, "fontStyle": "italic", "align": "left", "baseline": "alphabetic"}, "encoding": {"text": {"field": "t", "type": "nominal"}}},
        {"data": {"name": "sup"}, "transform": [{"filter": "datum.p=='IV'"}], "mark": {"type": "text", "fontSize": 19, "fontStyle": "italic", "align": "left", "baseline": "alphabetic"}, "encoding": {"text": {"field": "t", "type": "nominal"}}},
        {"data": {"name": "rm"}, "transform": [{"filter": "datum.p=='IV'"}], "mark": {"type": "text", "fontSize": 28, "align": "left", "baseline": "alphabetic"}, "encoding": {"text": {"field": "t", "type": "nominal"}}},
        {"data": {"name": "arr"}, "transform": [{"filter": "datum.p=='IV'"}], "mark": {"type": "text", "font": "Liberation Serif", "fontSize": 38, "align": "left", "baseline": "alphabetic"}, "encoding": {"text": {"field": "t", "type": "nominal"}}},
        {"data": {"name": "sm"}, "transform": [{"filter": "datum.p=='IV'"}], "mark": {"type": "text", "fontSize": 17, "align": "center", "baseline": "alphabetic"}, "encoding": {"text": {"field": "t", "type": "nominal"}}},
        {"data": {"name": "par"}, "transform": [{"filter": "datum.p=='IV'"}], "mark": {"type": "text", "fontSize": 40, "align": "center", "baseline": "middle"}, "encoding": {"text": {"field": "t", "type": "nominal"}}},
        {"data": {"name": "bpar"}, "transform": [{"filter": "datum.p=='IV'"}], "mark": {"type": "text", "fontSize": 48, "align": "center", "baseline": "middle"}, "encoding": {"text": {"field": "t", "type": "nominal"}}}
      ]
    },
    {
      "width": 630, "height": 436,
      "encoding": {
        "x": {"field": "x", "type": "quantitative", "scale": {"domain": [-2.45, 3.85], "nice": false, "zero": false}, "axis": null},
        "y": {"field": "y", "type": "quantitative", "scale": {"domain": [-0.53, 3.83], "nice": false, "zero": false}, "axis": null}
      },
      "layer": [
        {"data": {"name": "region"}, "transform": [{"filter": "datum.p=='V'"}], "mark": {"type": "line", "fill": "#f0f0f0", "stroke": "#b3b3b3", "strokeWidth": 1}, "encoding": {"order": {"field": "i", "type": "quantitative"}}},
        {"data": {"name": "dots"}, "transform": [{"filter": "datum.p=='V'"}], "mark": {"type": "line", "stroke": "#000", "strokeWidth": 1.2, "strokeDash": [1.2, 3.6]}, "encoding": {"detail": {"field": "g", "type": "nominal"}, "order": {"field": "i", "type": "quantitative"}}},
        {"data": {"name": "axes"}, "transform": [{"filter": "datum.p=='V'"}], "mark": {"type": "line", "stroke": "#000", "strokeWidth": 1.2}, "encoding": {"detail": {"field": "g", "type": "nominal"}, "order": {"field": "i", "type": "quantitative"}}},
        {"data": {"name": "curve"}, "transform": [{"filter": "datum.p=='V' && datum.s=='Unlimited intervention'"}], "mark": {"type": "line", "strokeWidth": 2},
         "encoding": {"order": {"field": "i", "type": "quantitative"},
           "color": {"field": "s", "type": "nominal", "scale": {"domain": ["Unlimited intervention", "Limited intervention"], "range": ["#0000ff", "#ff0000"]}, "legend": {"orient": "none", "legendX": 284, "legendY": 0, "direction": "horizontal", "title": null}},
           "strokeDash": {"field": "s", "type": "nominal", "scale": {"domain": ["Unlimited intervention", "Limited intervention"], "range": [[1, 0], [7, 5]]}, "legend": {"orient": "none", "legendX": 284, "legendY": 0, "direction": "horizontal", "title": null}}}},
        {"data": {"name": "curve"}, "transform": [{"filter": "datum.p=='V' && datum.s=='Limited intervention'"}], "mark": {"type": "line", "strokeWidth": 2},
         "encoding": {"order": {"field": "i", "type": "quantitative"},
           "color": {"field": "s", "type": "nominal", "scale": {"domain": ["Unlimited intervention", "Limited intervention"], "range": ["#0000ff", "#ff0000"]}, "legend": {"orient": "none", "legendX": 284, "legendY": 0, "direction": "horizontal", "title": null}},
           "strokeDash": {"field": "s", "type": "nominal", "scale": {"domain": ["Unlimited intervention", "Limited intervention"], "range": [[1, 0], [7, 5]]}, "legend": {"orient": "none", "legendX": 284, "legendY": 0, "direction": "horizontal", "title": null}}}},
        {"data": {"name": "heads"}, "transform": [{"filter": "datum.p=='V'"}], "mark": {"type": "point", "shape": "M-1.75,-1.1Q-0.7,-0.3,0,0Q-0.7,0.3,-1.75,1.1", "size": 64, "filled": false, "color": "#000", "strokeWidth": 1.2, "opacity": 1}, "encoding": {"angle": {"field": "a", "type": "quantitative", "scale": null}}},
        {"data": {"name": "tips"}, "transform": [{"filter": "datum.p=='V'"}], "mark": {"type": "point", "shape": "M-1.75,-1.1Q-0.7,-0.3,0,0Q-0.7,0.3,-1.75,1.1", "size": 30, "filled": false, "color": "#000", "strokeWidth": 1, "opacity": 1}, "encoding": {"angle": {"field": "a", "type": "quantitative", "scale": null}}},
        {"data": {"name": "ttl"}, "transform": [{"filter": "datum.p=='V'"}], "mark": {"type": "text", "fontSize": 26, "align": "left", "baseline": "alphabetic"}, "encoding": {"text": {"field": "t", "type": "nominal"}}},
        {"data": {"name": "mi"}, "transform": [{"filter": "datum.p=='V'"}], "mark": {"type": "text", "fontSize": 28, "fontStyle": "italic", "align": "left", "baseline": "alphabetic"}, "encoding": {"text": {"field": "t", "type": "nominal"}}},
        {"data": {"name": "sup"}, "transform": [{"filter": "datum.p=='V'"}], "mark": {"type": "text", "fontSize": 19, "fontStyle": "italic", "align": "left", "baseline": "alphabetic"}, "encoding": {"text": {"field": "t", "type": "nominal"}}},
        {"data": {"name": "rm"}, "transform": [{"filter": "datum.p=='V'"}], "mark": {"type": "text", "fontSize": 28, "align": "left", "baseline": "alphabetic"}, "encoding": {"text": {"field": "t", "type": "nominal"}}},
        {"data": {"name": "arr"}, "transform": [{"filter": "datum.p=='V'"}], "mark": {"type": "text", "font": "Liberation Serif", "fontSize": 38, "align": "left", "baseline": "alphabetic"}, "encoding": {"text": {"field": "t", "type": "nominal"}}},
        {"data": {"name": "sm"}, "transform": [{"filter": "datum.p=='V'"}], "mark": {"type": "text", "fontSize": 17, "align": "center", "baseline": "alphabetic"}, "encoding": {"text": {"field": "t", "type": "nominal"}}},
        {"data": {"name": "par"}, "transform": [{"filter": "datum.p=='V'"}], "mark": {"type": "text", "fontSize": 40, "align": "center", "baseline": "middle"}, "encoding": {"text": {"field": "t", "type": "nominal"}}}
      ]
    }
  ]
}
